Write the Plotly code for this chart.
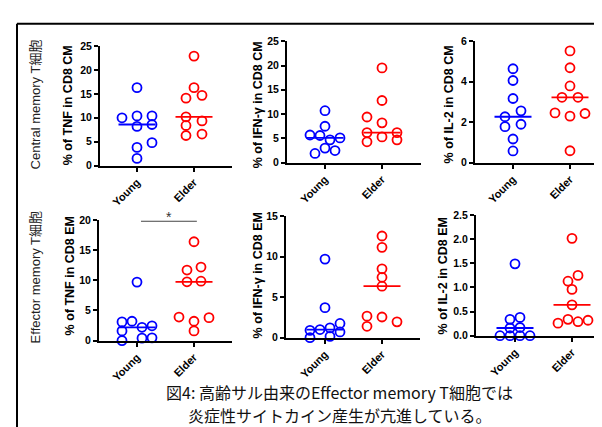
import numpy as np
import plotly.graph_objects as go

W, H = 602, 427
PX_PER_CAT = 57.0

categories = ["Young", "Elder"]

# ---- data ----
tnf_cm_young = [16.3, 10.0, 10.4, 10.4, 8.2, 8.6, 3.8, 4.8, 1.5]
tnf_cm_elder = [22.9, 16.3, 14.7, 14.1, 10.2, 9.35, 8.4, 6.3, 6.6]
ifn_cm_young = [10.7, 7.5, 5.7, 5.6, 4.7, 5.1, 1.9, 3.0, 2.5]
ifn_cm_elder = [19.5, 12.8, 9.4, 8.2, 6.2, 6.2, 5.3, 4.3, 4.7]
il2_cm_young = [4.64, 4.06, 3.17, 2.56, 2.27, 1.9, 1.78, 1.17, 0.58]
il2_cm_elder = [5.52, 4.69, 3.79, 3.23, 3.23, 2.46, 2.3, 2.43, 0.59]
tnf_em_young = [9.7, 3.1, 3.2, 1.6, 2.2, 2.45, 0.0, 0.4, 0.45]
tnf_em_elder = [16.4, 11.7, 12.2, 9.75, 9.85, 3.9, 3.2, 3.8, 1.6]
ifn_em_young = [9.7, 3.7, 1.75, 1.2, 1.0, 0.9, 0.7, 0.15, 0.0]
ifn_em_elder = [12.55, 11.15, 8.5, 7.45, 6.35, 2.65, 2.55, 1.95, 1.4]
il2_em_young = [1.49, 0.38, 0.34, 0.17, 0.16, 0.0, 0.0, 0.0, 0.0]
il2_em_elder = [2.02, 1.25, 1.13, 0.96, 0.64, 0.34, 0.32, 0.29, 0.26]

# horizontal scatter offsets of each point (px), as drawn in the figure
jit_tnf_cm_young = [0, -15, 0, 15, 0, 15, 0, 15, 0]
jit_tnf_cm_elder = [0, 0, 8, -8, -8, 8, -8, -8, 8]
jit_ifn_cm_young = [0, 0, -15, -5, 5, 15, -10, 0, 10]
jit_ifn_cm_elder = [0, 0, -15, 0, -15, 15, 0, -15, 15]
jit_il2_cm_young = [0, 0, 0, 8, -8, 8, -8, 0, 0]
jit_il2_cm_elder = [0, 0, 0, -8, 8, -15, 0, 15, 0]
jit_tnf_em_young = [0, -15, -5, -15, 5, 15, -15, 5, 15]
jit_tnf_em_elder = [0, -7, 7, -7, 7, -15, 0, 15, 0]
jit_ifn_em_young = [0, 0, 15, 5, -5, -15, 15, 5, -15]
jit_ifn_em_elder = [0, 0, 0, 0, 0, -15, 0, 15, -15]
jit_il2_em_young = [0, 5, -5, 5, -5, -15, -5, 5, 15]
jit_il2_em_elder = [0, 6, -4, 0, 0, -4, 16, 6, -14]

y_titles = ["% of TNF in CD8 CM", "% of IFN-γ in CD8 CM", "% of IL-2 in CD8 CM",
            "% of TNF in CD8 EM", "% of IFN-γ in CD8 EM", "% of IL-2 in CD8 EM"]
y_maxes = [25, 25, 6, 20, 15, 2.5]
y_ticks = [[0, 5, 10, 15, 20, 25], [0, 5, 10, 15, 20, 25], [0, 2, 4, 6],
           [0, 5, 10, 15, 20], [0, 5, 10, 15], [0.0, 0.5, 1.0, 1.5, 2.0, 2.5]]
y_fmt = ["", "", "", "", "", ".1f"]
row_labels = ["Central memory T細胞", "Effector memory T細胞"]
caption_lines = ["図4: 高齢サル由来のEffector memory T細胞では",
                 "炎症性サイトカイン産生が亢進している。"]
sig_label = "*"

panels = [
    (tnf_cm_young, tnf_cm_elder, jit_tnf_cm_young, jit_tnf_cm_elder),
    (ifn_cm_young, ifn_cm_elder, jit_ifn_cm_young, jit_ifn_cm_elder),
    (il2_cm_young, il2_cm_elder, jit_il2_cm_young, jit_il2_cm_elder),
    (tnf_em_young, tnf_em_elder, jit_tnf_em_young, jit_tnf_em_elder),
    (ifn_em_young, ifn_em_elder, jit_ifn_em_young, jit_ifn_em_elder),
    (il2_em_young, il2_em_elder, jit_il2_em_young, jit_il2_em_elder),
]

# ---- layout geometry (pixels) ----
# (x_left, x_right, y_top, y_bottom, young_x)
geom = [
    (92, 224, 33, 156, 129),
    (279, 413, 28, 153, 317),
    (467, 599, 28, 153, 505),
    (91, 224, 212, 336, 129),
    (278, 412, 208, 333, 317),
    (468, 602, 207, 331, 507),
]
title_pos = [(60, 94), (250, 94), (441, 93), (62, 270), (250, 269), (435, 270)]

COLORS = ["#0000FF", "#FF0000"]
FONT = "Liberation Sans, Arial, sans-serif"
CJK = "Liberation Sans, Arial, Noto Sans CJK JP, sans-serif"
CAPF = "Noto Sans CJK JP, sans-serif"

fig = go.Figure()
layout = dict(
    width=W, height=H, margin=dict(l=0, r=0, t=0, b=0),
    paper_bgcolor="white", plot_bgcolor="white", showlegend=False,
    annotations=[], shapes=[],
)

for i, (yv, ev, yj, ej) in enumerate(panels):
    n = i + 1
    xl, xr, yt, yb, yx = geom[i]
    xref = "x" if n == 1 else f"x{n}"
    yref = "y" if n == 1 else f"y{n}"
    left = (xl - yx) / PX_PER_CAT
    right = (xr - yx) / PX_PER_CAT
    for c, (vals, jit) in enumerate([(yv, yj), (ev, ej)]):
        xs = [c + j / PX_PER_CAT for j in jit]
        fig.add_trace(go.Scatter(
            x=xs, y=vals, mode="markers", xaxis=xref, yaxis=yref,
            cliponaxis=False,
            marker=dict(symbol="circle-open", size=9, color=COLORS[c],
                        line=dict(width=1.8, color=COLORS[c])),
            hoverinfo="y"))
        med = float(np.median(vals))
        hw = 18.5 / PX_PER_CAT
        fig.add_trace(go.Scatter(
            x=[c - hw, c + hw], y=[med, med], mode="lines",
            xaxis=xref, yaxis=yref, cliponaxis=False,
            line=dict(color=COLORS[c], width=1.8), hoverinfo="skip"))
    xk = "xaxis" if n == 1 else f"xaxis{n}"
    yk = "yaxis" if n == 1 else f"yaxis{n}"
    layout[xk] = dict(
        domain=[xl / W, xr / W], range=[left, right], anchor=yref,
        tickmode="array", tickvals=[0, 1], ticktext=categories,
        tickangle=-45, showline=True, linecolor="black", linewidth=2,
        ticks="outside", ticklen=4, tickwidth=1.5, tickcolor="black",
        showgrid=False, zeroline=False,
        tickfont=dict(family=FONT, size=11, color="black", weight="bold"))
    layout[yk] = dict(
        domain=[1 - yb / H, 1 - yt / H], range=[0, y_maxes[i]], anchor=xref,
        tickmode="array", tickvals=y_ticks[i], tickformat=y_fmt[i],
        showline=True, linecolor="black", linewidth=2,
        ticks="outside", ticklen=4, tickwidth=1.5, tickcolor="black",
        showgrid=False, zeroline=False,
        tickfont=dict(family=FONT, size=10.5, color="black", weight="bold"))
    tx, ty = title_pos[i]
    layout["annotations"].append(dict(
        text=y_titles[i], x=tx / W, y=1 - ty / H, xref="paper", yref="paper",
        textangle=-90, showarrow=False, xanchor="center", yanchor="middle",
        font=dict(family=FONT, size=12.5, color="black", weight="bold")))

# significance bar on TNF EM panel
layout["shapes"].append(dict(type="line", xref="x4", yref="y4",
                             x0=0.07, x1=1.05, y0=19.8, y1=19.8,
                             line=dict(color="#444444", width=1)))
layout["annotations"].append(dict(text=sig_label, x=0.56, y=19.8, xref="x4", yref="y4",
                                  showarrow=False, yanchor="bottom", yshift=-6,
                                  font=dict(family=FONT, size=14, color="#333333")))

# row labels
for lab, cy in zip(row_labels, [93, 271]):
    layout["annotations"].append(dict(
        text=lab, x=27 / W, y=1 - cy / H, xref="paper", yref="paper",
        textangle=-90, showarrow=False, xanchor="center", yanchor="middle",
        font=dict(family=CJK, size=13, color="#222222")))

# caption (two centred lines)
for line, cy in zip(caption_lines, [389, 413]):
    layout["annotations"].append(dict(
        text=line, x=332 / W, y=1 - cy / H, xref="paper", yref="paper",
        showarrow=False, xanchor="center", yanchor="middle", align="center",
        font=dict(family=CAPF, size=16, color="#111111")))

# outer frame (top and left edges visible)
layout["shapes"].append(dict(type="line", xref="paper", yref="paper",
                             x0=9 / W, x1=1.0, y0=1 - 10 / H, y1=1 - 10 / H,
                             line=dict(color="black", width=2)))
layout["shapes"].append(dict(type="line", xref="paper", yref="paper",
                             x0=9 / W, x1=9 / W, y0=1 - 10 / H, y1=0,
                             line=dict(color="black", width=2)))

fig.update_layout(**layout)
fig.write_html("out.html")
